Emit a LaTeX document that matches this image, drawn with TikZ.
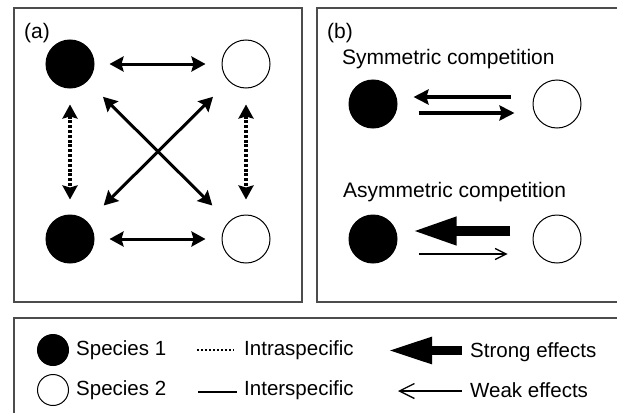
\documentclass[tikz,border=0pt]{standalone}
\usepackage{fontspec}
\setmainfont{Liberation Sans}
\usetikzlibrary{arrows.meta}
\begin{document}
\begin{tikzpicture}[x=1pt,y=-1pt,
  panel/.style={draw=black!70,line width=1.3pt},
  sp1/.style={circle,fill=black,draw=black,line width=1pt,minimum size=48pt,inner sep=0pt},
  sp2/.style={circle,fill=white,draw=black,line width=1pt,minimum size=48pt,inner sep=0pt},
  lsp1/.style={sp1,minimum size=31pt},
  lsp2/.style={sp2,minimum size=31pt},
  lbl/.style={anchor=base west,inner sep=0pt,font=\fontsize{21}{25}\selectfont},
  leg/.style={anchor=base west,inner sep=0pt,font=\fontsize{20.5}{24}\selectfont},
  tipA/.tip={Stealth[length=14pt,width=15pt,inset=2pt]},
  inter/.style={line width=3pt,tipA-tipA},
  intra/.style={inter,line width=3.2pt,dash pattern=on 3pt off 1.8pt},
  effect/.style={line width=3.3pt,-{Stealth[length=15pt,width=15pt,inset=2pt]}},
  strong/.style={line width=9.5pt,-{Triangle[length=44pt,width=26pt]}},
  weak/.style={line width=1.3pt,-{Straight Barb[length=11pt,width=11pt,line width=1.3pt]}},
]
\useasboundingbox (0,0) rectangle (617,412);
\clip (0,0) rectangle (617,412);
% panel frames
\draw[panel] (14,8) rectangle (302,302);
\draw[panel] (317,8) rectangle (640,302);
\draw[panel] (14,318) rectangle (640,440);
% panel (a)
\node[lbl] (la) at (24,38) {(a)};
\node[sp1] (a1) at (70,64) {};
\node[sp2] (a2) at (246,64) {};
\node[sp1] (a3) at (70,239) {};
\node[sp2] (a4) at (246,239) {};
\draw[inter,shorten <=15pt,shorten >=16pt] (a1) -- (a2);
\draw[inter,shorten <=15pt,shorten >=16pt] (a3) -- (a4);
\draw[intra,shorten <=16pt,shorten >=15pt] (a1) -- (a3);
\draw[intra,shorten <=16pt,shorten >=15pt] (a2) -- (a4);
\draw[inter,shorten <=22pt,shorten >=23pt] (a1) -- (a4);
\draw[inter,shorten <=22pt,shorten >=23pt] (a2) -- (a3);
% panel (b)
\node[lbl] (lb) at (327,38) {(b)};
\node[lbl] (sym) at (342,64) {Symmetric competition};
\node[lbl] (asym) at (343,197) {Asymmetric competition};
\node[sp1] (b1) at (373,104) {};
\node[sp2] (b2) at (557,104) {};
\node[sp1] (b3) at (373,239) {};
\node[sp2] (b4) at (557,239) {};
\draw[effect] ([xshift=-22pt,yshift=7pt]b2.west) -- ([xshift=16pt,yshift=7pt]b1.east);
\draw[effect] ([xshift=21pt,yshift=-9pt]b1.east) -- ([xshift=-18pt,yshift=-9pt]b2.west);
\draw[strong] ([xshift=-23pt,yshift=8pt]b4.west) -- ([xshift=15pt,yshift=8pt]b3.east);
\draw[weak] ([xshift=21pt,yshift=-15pt]b3.east) -- ([xshift=-25pt,yshift=-15pt]b4.west);
% legend
\node[lsp1] (l1) at (53,350) {};
\node[lsp2] (l2) at (53,390) {};
\node[leg] (t1) at (76,355) {Species 1};
\node[leg] (t2) at (76,395) {Species 2};
\coordinate (d1) at (197,350);
\coordinate (d2) at (234,350);
\draw[line width=2.8pt,dash pattern=on 2.4pt off 1.6pt] (d1) -- (d2);
\coordinate (s1) at (198,392);
\coordinate (s2) at (237,392);
\draw[line width=2.2pt] (s1) -- (s2);
\node[leg] (t3) at (244,355) {Intraspecific};
\node[leg] (t4) at (244,395) {Interspecific};
\coordinate (e1) at (462,350.5);
\coordinate (e2) at (388,350.5);
\draw[line width=8.5pt,-{Triangle[length=44pt,width=25pt]}] (e1) -- (e2);
\coordinate (w1) at (462,391);
\coordinate (w2) at (398,391);
\draw[line width=1.3pt,-{Straight Barb[length=15pt,width=15pt,line width=1.3pt]}] (w1) -- (w2);
\node[leg] (t5) at (470,357) {Strong effects};
\node[leg] (t6) at (470,397) {Weak effects};
\end{tikzpicture}
\end{document}
